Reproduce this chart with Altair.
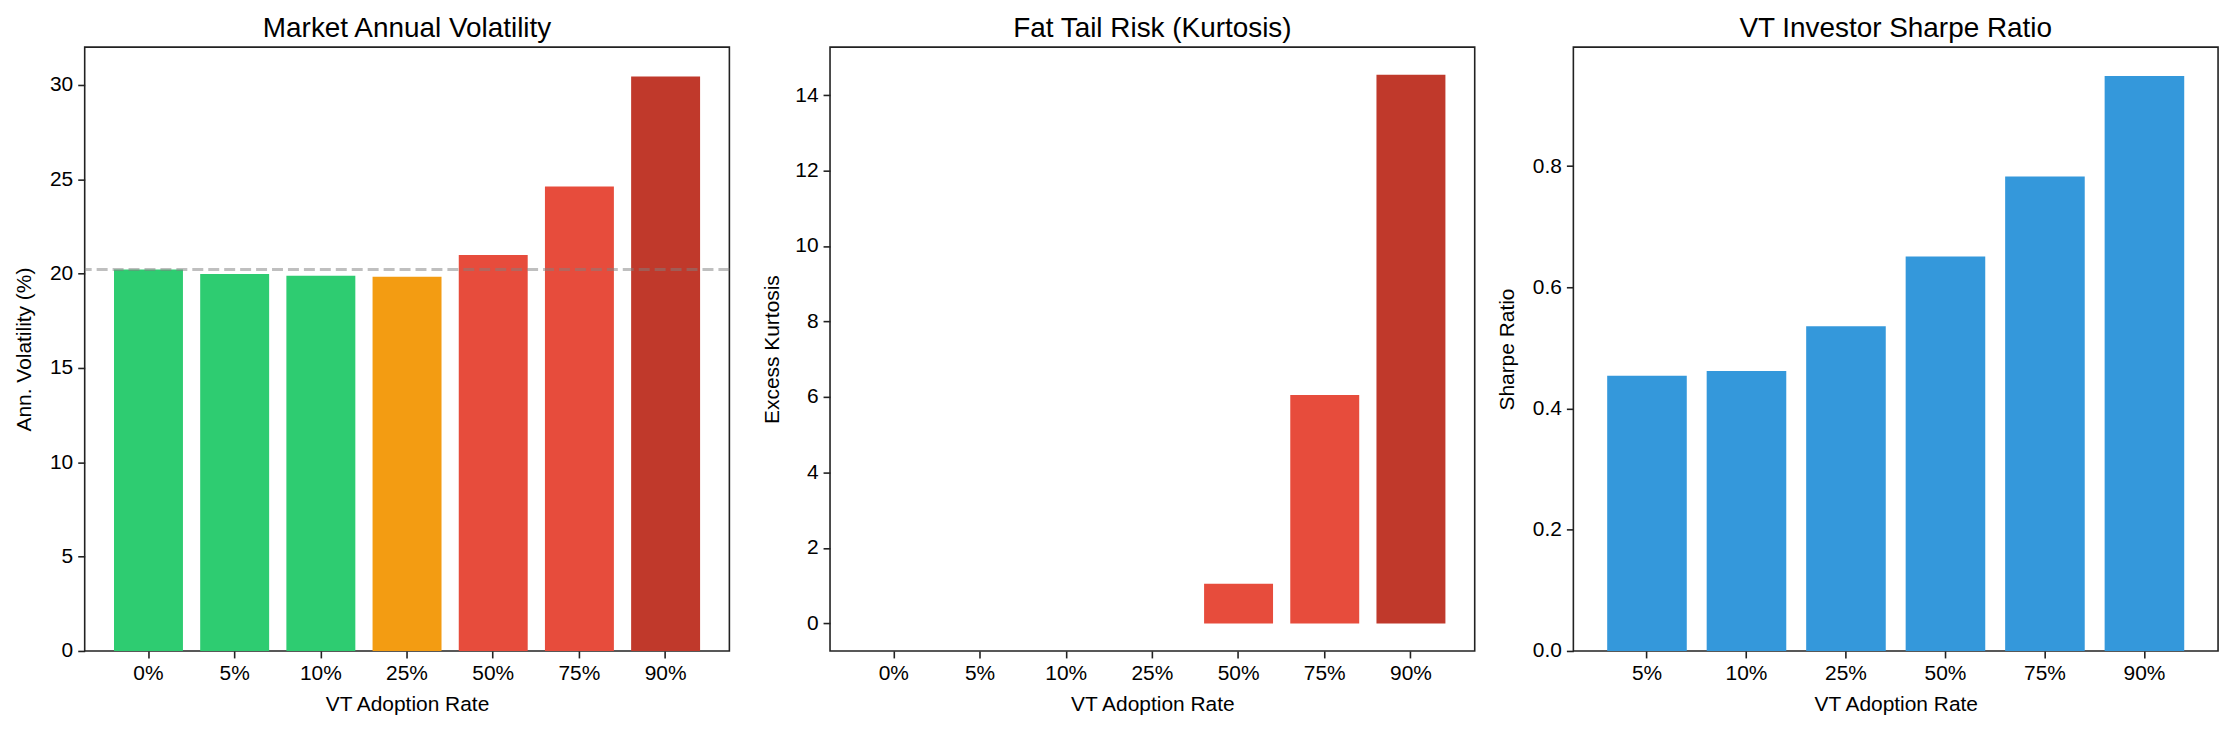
import altair as alt
import pandas as pd

rates = ["0%", "5%", "10%", "25%", "50%", "75%", "90%"]
volatility = [20.22, 19.98, 19.88, 19.83, 20.98, 24.62, 30.44]
kurtosis = [0.0, 0.0, 0.0, 0.0, 1.05, 6.05, 14.54]
bar_colors = ["#2ecc71", "#2ecc71", "#2ecc71", "#f39c12", "#e74c3c", "#e74c3c", "#c0392b"]
baseline_vol = [20.22]

sharpe_rates = ["5%", "10%", "25%", "50%", "75%", "90%"]
sharpe = [0.454, 0.462, 0.536, 0.651, 0.783, 0.949]

FONT = "Liberation Sans"
W, H = 647, 606

df1 = pd.DataFrame({"rate": rates, "vol": volatility, "color": bar_colors})
df2 = pd.DataFrame({"rate": rates, "kurt": kurtosis, "color": bar_colors})
df3 = pd.DataFrame({"rate": sharpe_rates, "sharpe": sharpe})
dfb = pd.DataFrame({"vol": baseline_vol})


def xaxis():
    return alt.Axis(title="VT Adoption Rate", labelAngle=0, domain=False, grid=False,
                    tickSize=7, tickWidth=1.6, tickColor="#222222",
                    labelFontSize=21, labelColor="black", labelPadding=5, labelFont=FONT,
                    titleFontSize=21, titleFontWeight="normal", titleColor="black", titleFont=FONT,
                    titleX=W / 2, titleY=60, titleBaseline="alphabetic", titleAlign="center")


def yaxis(title, values, fmt, tx):
    return alt.Axis(title=title, values=values, format=fmt, domain=False, grid=False,
                    tickSize=7, tickWidth=1.6, tickColor="#222222",
                    labelFontSize=21, labelColor="black", labelPadding=5, labelFont=FONT,
                    titleFontSize=21, titleFontWeight="normal", titleColor="black", titleFont=FONT,
                    titleAngle=-90, titleX=tx, titleY=H / 2, titleBaseline="middle", titleAlign="center")


def ttl(text):
    return alt.TitleParams(text=text, fontSize=28, fontWeight="normal", font=FONT, color="black",
                           offset=-24, baseline="bottom", anchor="middle")


xs = alt.Scale(paddingInner=0.2, paddingOuter=0.34)

bars1 = alt.Chart(df1).mark_bar().encode(
    x=alt.X("rate:N", sort=rates, scale=xs, axis=xaxis()),
    y=alt.Y("vol:Q", scale=alt.Scale(domain=[0, 32], nice=False, zero=False),
            axis=yaxis("Ann. Volatility (%)", [0, 5, 10, 15, 20, 25, 30], "d", -60)),
    color=alt.Color("color:N", scale=None),
)
rule1 = alt.Chart(dfb).mark_rule(color="gray", opacity=0.5, strokeDash=[11, 5], strokeWidth=3).encode(
    y=alt.Y("vol:Q")
)
p1 = alt.layer(bars1, rule1).properties(width=W, height=H, title=ttl("Market Annual Volatility"))

p2 = alt.Chart(df2).mark_bar().encode(
    x=alt.X("rate:N", sort=rates, scale=xs, axis=xaxis()),
    y=alt.Y("kurt:Q", scale=alt.Scale(domain=[-0.73, 15.27], nice=False, zero=False),
            axis=yaxis("Excess Kurtosis", [0, 2, 4, 6, 8, 10, 12, 14], "d", -58)),
    color=alt.Color("color:N", scale=None),
).properties(width=W, height=H, title=ttl("Fat Tail Risk (Kurtosis)"))

p3 = alt.Chart(df3).mark_bar(color="#3498db").encode(
    x=alt.X("rate:N", sort=sharpe_rates, scale=xs, axis=xaxis()),
    y=alt.Y("sharpe:Q", scale=alt.Scale(domain=[0, 0.9965], nice=False, zero=False),
            axis=yaxis("Sharpe Ratio", [0, 0.2, 0.4, 0.6, 0.8], ".1f", -66)),
).properties(width=W, height=H, title=ttl("VT Investor Sharpe Ratio"))

left = alt.hconcat(p1, p2, spacing=28)
chart = alt.hconcat(left, p3, spacing=20).properties(
    padding={"left": 13, "top": 13, "right": 14, "bottom": 0},
    background="white",
).configure(font=FONT).configure_view(stroke="#222222", strokeWidth=1.6)

chart.save("out.html", embed_options={"renderer": "svg", "actions": False})
